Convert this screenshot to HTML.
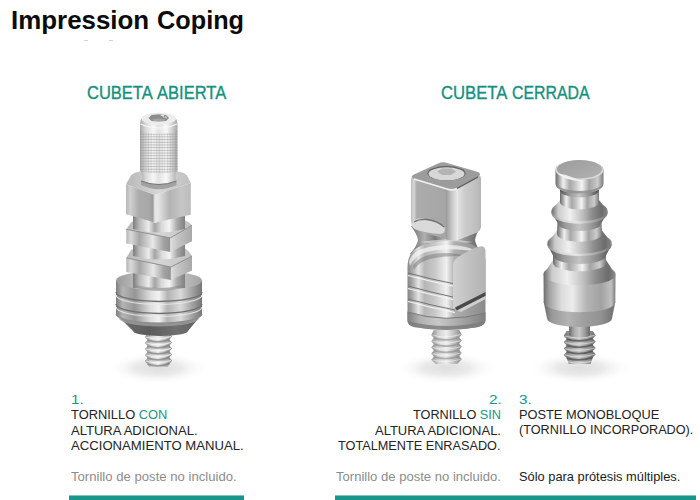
<!DOCTYPE html>
<html><head><meta charset="utf-8">
<style>
html,body{margin:0;padding:0;background:#fff;width:700px;height:500px;overflow:hidden;position:relative}
body{font-family:"Liberation Sans",sans-serif;color:#222}
.t{position:absolute;white-space:nowrap;line-height:1;transform-origin:0 0}
.title{font-size:26px;font-weight:bold;color:#0b0b0b}
.h{font-size:18.5px;color:#16907f;-webkit-text-stroke:0.35px #16907f}
.s{font-size:13.6px;color:#242424}
.g{color:#8c8c8c}
.tl{color:#19968a}
.bar{position:absolute;height:5px;top:495px;background:linear-gradient(to bottom,rgba(24,150,139,0.55) 0,rgba(24,150,139,0.55) 1px,#18968b 1px)}
svg{position:absolute;left:0;top:0}
</style></head><body>
<svg width="700" height="500" viewBox="0 0 700 500"><defs>
<linearGradient id="cyl" x1="0" x2="1">
 <stop offset="0" stop-color="#7c7c7c"/><stop offset="0.12" stop-color="#b8b8b8"/><stop offset="0.3" stop-color="#ececec"/>
 <stop offset="0.42" stop-color="#a4a4a4"/><stop offset="0.55" stop-color="#dadada"/><stop offset="0.7" stop-color="#f4f4f4"/>
 <stop offset="0.85" stop-color="#a8a8a8"/><stop offset="1" stop-color="#808080"/>
</linearGradient>
<linearGradient id="cylL" x1="0" x2="1">
 <stop offset="0" stop-color="#a8a8a8"/><stop offset="0.15" stop-color="#d8d8d8"/><stop offset="0.35" stop-color="#f6f6f6"/>
 <stop offset="0.5" stop-color="#e2e2e2"/><stop offset="0.7" stop-color="#f8f8f8"/><stop offset="0.88" stop-color="#cccccc"/><stop offset="1" stop-color="#a4a4a4"/>
</linearGradient>
<linearGradient id="hexL" x1="0" x2="1">
 <stop offset="0" stop-color="#b8b8b8"/><stop offset="0.15" stop-color="#d0d0d0"/><stop offset="0.45" stop-color="#acacac"/><stop offset="0.8" stop-color="#a8a8a8"/><stop offset="0.94" stop-color="#9a9a9a"/><stop offset="1" stop-color="#8a8a8a"/>
</linearGradient>
<linearGradient id="hexR" x1="0" x2="1">
 <stop offset="0" stop-color="#f0f0f0"/><stop offset="0.15" stop-color="#dcdcdc"/><stop offset="0.4" stop-color="#b4b4b4"/><stop offset="0.75" stop-color="#c6c6c6"/><stop offset="1" stop-color="#bcbcbc"/>
</linearGradient>
<linearGradient id="disc" x1="0" x2="1">
 <stop offset="0" stop-color="#7e7e7e"/><stop offset="0.08" stop-color="#b4b4b4"/><stop offset="0.22" stop-color="#969696"/><stop offset="0.4" stop-color="#dedede"/>
 <stop offset="0.5" stop-color="#f2f2f2"/><stop offset="0.6" stop-color="#b4b4b4"/><stop offset="0.75" stop-color="#dadada"/><stop offset="0.9" stop-color="#9c9c9c"/><stop offset="1" stop-color="#767676"/>
</linearGradient>
<linearGradient id="disctop" x1="0" x2="1">
 <stop offset="0" stop-color="#9a9a9a"/><stop offset="0.3" stop-color="#c4c4c4"/><stop offset="0.6" stop-color="#d2d2d2"/><stop offset="1" stop-color="#a4a4a4"/>
</linearGradient>
<linearGradient id="cone" x1="0" x2="1">
 <stop offset="0" stop-color="#6e6e6e"/><stop offset="0.4" stop-color="#5c5c5c"/><stop offset="0.7" stop-color="#707070"/><stop offset="1" stop-color="#5e5e5e"/>
</linearGradient>
<linearGradient id="thread" x1="0" x2="1">
 <stop offset="0" stop-color="#8c8c8c"/><stop offset="0.25" stop-color="#d4d4d4"/><stop offset="0.5" stop-color="#ececec"/><stop offset="0.78" stop-color="#b8b8b8"/><stop offset="1" stop-color="#848484"/>
</linearGradient>
<linearGradient id="topface" x1="0" x2="1">
 <stop offset="0" stop-color="#b8b8b8"/><stop offset="0.5" stop-color="#d6d6d6"/><stop offset="1" stop-color="#c0c0c0"/>
</linearGradient>
<pattern id="knurl" width="2.7" height="2.7" patternUnits="userSpaceOnUse" x="140" y="131">
 <rect x="0" y="0" width="2.7" height="0.8" fill="#8e8e8e" opacity="0.55"/><rect x="0" y="0" width="0.7" height="2.7" fill="#9a9a9a" opacity="0.35"/>
</pattern>
<radialGradient id="shadow" cx="0.5" cy="0.5" r="0.5">
 <stop offset="0" stop-color="#dedede"/><stop offset="0.45" stop-color="#eaeaea"/><stop offset="1" stop-color="#ffffff" stop-opacity="0"/>
</radialGradient>
</defs>
<defs>
<linearGradient id="hexL2" x1="0" x2="1">
 <stop offset="0" stop-color="#b4b4b4"/><stop offset="0.1" stop-color="#dadada"/><stop offset="0.3" stop-color="#a6a6a6"/><stop offset="0.6" stop-color="#e8e8e8"/><stop offset="0.85" stop-color="#a2a2a2"/><stop offset="1" stop-color="#929292"/>
</linearGradient>
<linearGradient id="hexR2" x1="0" x2="1">
 <stop offset="0" stop-color="#dedede"/><stop offset="0.35" stop-color="#c4c4c4"/><stop offset="1" stop-color="#a8a8a8"/>
</linearGradient>
</defs>
<defs>
<linearGradient id="body2" x1="0" x2="1">
 <stop offset="0" stop-color="#858585"/><stop offset="0.06" stop-color="#a8a8a8"/><stop offset="0.14" stop-color="#e4e4e4"/><stop offset="0.22" stop-color="#b6b6b6"/>
 <stop offset="0.35" stop-color="#c8c8c8"/><stop offset="0.5" stop-color="#f0f0f0"/><stop offset="0.6" stop-color="#b0b0b0"/><stop offset="0.8" stop-color="#9c9c9c"/><stop offset="1" stop-color="#8a8a8a"/>
</linearGradient>
<linearGradient id="flat2" x1="0" x2="1">
 <stop offset="0" stop-color="#d2d2d2"/><stop offset="0.5" stop-color="#c0c0c0"/><stop offset="1" stop-color="#b4b4b4"/>
</linearGradient>
<linearGradient id="sqL" x1="0" x2="1">
 <stop offset="0" stop-color="#bcbcbc"/><stop offset="0.07" stop-color="#d8d8d8"/><stop offset="0.14" stop-color="#acacac"/><stop offset="0.8" stop-color="#a6a6a6"/><stop offset="1" stop-color="#989898"/>
</linearGradient>
<linearGradient id="sqR" x1="0" x2="1">
 <stop offset="0" stop-color="#909090"/><stop offset="0.2" stop-color="#e2e2e2"/><stop offset="0.45" stop-color="#cccccc"/><stop offset="0.8" stop-color="#c0c0c0"/><stop offset="1" stop-color="#b4b4b4"/>
</linearGradient>
<linearGradient id="cap3" x1="0" x2="1">
 <stop offset="0" stop-color="#6a6a6a"/><stop offset="0.06" stop-color="#9a9a9a"/><stop offset="0.16" stop-color="#f0f0f0"/><stop offset="0.3" stop-color="#a8a8a8"/>
 <stop offset="0.42" stop-color="#c8c8c8"/><stop offset="0.55" stop-color="#f4f4f4"/><stop offset="0.7" stop-color="#a4a4a4"/><stop offset="0.88" stop-color="#cccccc"/><stop offset="1" stop-color="#7a7a7a"/>
</linearGradient>
<linearGradient id="cone3" x1="0" x2="1">
 <stop offset="0" stop-color="#6a6a6a"/><stop offset="0.12" stop-color="#cccccc"/><stop offset="0.33" stop-color="#f0f0f0"/><stop offset="0.55" stop-color="#c0c0c0"/>
 <stop offset="0.72" stop-color="#8e8e8e"/><stop offset="0.9" stop-color="#6c6c6c"/><stop offset="1" stop-color="#888888"/>
</linearGradient>
<linearGradient id="top3" x1="0" x2="1" y1="0" y2="1">
 <stop offset="0" stop-color="#9c9c9c"/><stop offset="0.6" stop-color="#a8a8a8"/><stop offset="1" stop-color="#b4b4b4"/>
</linearGradient>
<linearGradient id="dark3" x1="0" x2="1">
 <stop offset="0" stop-color="#6c6c6c"/><stop offset="0.12" stop-color="#9a9a9a"/><stop offset="0.35" stop-color="#b4b4b4"/><stop offset="0.55" stop-color="#a0a0a0"/><stop offset="0.8" stop-color="#929292"/><stop offset="1" stop-color="#6e6e6e"/>
</linearGradient>
</defs>
<defs>
<linearGradient id="body3" x1="0" x2="1">
 <stop offset="0" stop-color="#6e6e6e"/><stop offset="0.08" stop-color="#a2a2a2"/><stop offset="0.25" stop-color="#dcdcdc"/><stop offset="0.4" stop-color="#ececec"/>
 <stop offset="0.6" stop-color="#b4b4b4"/><stop offset="0.8" stop-color="#a2a2a2"/><stop offset="0.94" stop-color="#c0c0c0"/><stop offset="1" stop-color="#7c7c7c"/>
</linearGradient>
<linearGradient id="under3" x1="0" x2="1">
 <stop offset="0" stop-color="#505050"/><stop offset="0.25" stop-color="#9a9a9a"/><stop offset="0.5" stop-color="#c4c4c4"/><stop offset="0.78" stop-color="#8a8a8a"/><stop offset="1" stop-color="#505050"/>
</linearGradient>
<linearGradient id="rim3" x1="0" x2="1">
 <stop offset="0" stop-color="#8a8a8a"/><stop offset="0.2" stop-color="#d8d8d8"/><stop offset="0.45" stop-color="#e8e8e8"/><stop offset="0.75" stop-color="#a8a8a8"/><stop offset="1" stop-color="#7a7a7a"/>
</linearGradient>
</defs>
<defs>
<linearGradient id="band2" x1="0" x2="1">
 <stop offset="0" stop-color="#7e7e7e"/><stop offset="0.15" stop-color="#b0b0b0"/><stop offset="0.4" stop-color="#c8c8c8"/><stop offset="0.7" stop-color="#a4a4a4"/><stop offset="1" stop-color="#808080"/>
</linearGradient>
<linearGradient id="neck2" x1="0" x2="1">
 <stop offset="0" stop-color="#6a6a6a"/><stop offset="0.2" stop-color="#b0b0b0"/><stop offset="0.35" stop-color="#7a7a7a"/><stop offset="0.55" stop-color="#d0d0d0"/><stop offset="0.8" stop-color="#8a8a8a"/><stop offset="1" stop-color="#5e5e5e"/>
</linearGradient>
<linearGradient id="edge2" x1="0" x2="1">
 <stop offset="0" stop-color="#9a9a9a"/><stop offset="0.5" stop-color="#c8c8c8"/><stop offset="1" stop-color="#ececec"/>
</linearGradient>
</defs>
<defs>
<linearGradient id="thread3" x1="0" x2="1">
 <stop offset="0" stop-color="#6a6a6a"/><stop offset="0.25" stop-color="#aaaaaa"/><stop offset="0.5" stop-color="#c6c6c6"/><stop offset="0.78" stop-color="#969696"/><stop offset="1" stop-color="#666666"/>
</linearGradient>
</defs>
<g id="o1">
 <ellipse cx="158" cy="368" rx="52" ry="16" fill="url(#shadow)"/>
 <!-- screw thread -->
<path d="M169.5,333.0 L172.0,336.4 L169.5,339.4 L172.0,342.4 L169.5,345.4 L172.0,348.4 L169.5,351.4 L172.0,354.4 L169.5,357.4 L172.0,360.4 L167.5,367.0 L149.5,367.0 L145.0,361.0 L147.5,358.0 L145.0,355.0 L147.5,352.0 L145.0,349.0 L147.5,346.0 L145.0,343.0 L147.5,340.0 L145.0,337.0 L147.5,333.0 Z" fill="url(#thread)"/>
<g fill="none" stroke="#808080" stroke-width="1.7" opacity="0.75"><path d="M147.5,340.0 Q158.5,344.0 169.5,339.4"/><path d="M147.5,346.0 Q158.5,350.0 169.5,345.4"/><path d="M147.5,352.0 Q158.5,356.0 169.5,351.4"/><path d="M147.5,358.0 Q158.5,362.0 169.5,357.4"/><path d="M147.5,364.0 Q158.5,368.0 169.5,363.4"/></g>
<g fill="none" stroke="#fafafa" stroke-width="1.2" opacity="0.7"><path d="M146.0,337.0 Q158.5,341.0 171.0,336.4"/><path d="M146.0,343.0 Q158.5,347.0 171.0,342.4"/><path d="M146.0,349.0 Q158.5,353.0 171.0,348.4"/><path d="M146.0,355.0 Q158.5,359.0 171.0,354.4"/><path d="M146.0,361.0 Q158.5,365.0 171.0,360.4"/></g>
 <!-- cone -->
 <path d="M116,314 A43,9 0 0 0 202,314 L188,331 A27.5,5 0 0 1 133,331 Z" fill="url(#cone)"/>
 <path d="M116,314 A43,9 0 0 0 202,314 L199,318 A40,8.5 0 0 1 119,318 Z" fill="#9e9e9e" opacity="0.8"/>
 <!-- disc side -->
 <path d="M116,281 L202,281 L202,314 A43,9 0 0 1 116,314 Z" fill="url(#disc)"/>
 <g fill="none" stroke="#6e6e6e" stroke-width="1.3">
  <path d="M116,292 A43,9.5 0 0 0 202,292"/><path d="M116,304 A43,9.5 0 0 0 202,304"/>
 </g>
 <g fill="none" stroke="#ececec" stroke-width="1.2" opacity="0.85">
  <path d="M116,295 A43,9.5 0 0 0 202,295"/><path d="M116,307 A43,9.5 0 0 0 202,307"/>
 </g>
 <path d="M116,314 A43,9 0 0 0 202,314" fill="none" stroke="#8a8a8a" stroke-width="1"/>
 <ellipse cx="159" cy="280.5" rx="43" ry="9.5" fill="url(#disctop)"/>
 <!-- shaft full -->
 <rect x="133" y="212" width="52" height="76" fill="url(#cyl)"/>
 <path d="M133,284 Q159,292 185,284 L185,287 Q159,295 133,287Z" fill="#888888" opacity="0.5"/>
 <!-- thin hex 2 -->
 <path d="M126.3,257.9 L131,250 Q134,248 141,248 L182,247.5 Q187,247.5 192,256.1 L170.9,267 Z" fill="url(#topface)"/>
 <path d="M133,240 L185,240 L185,256 Q159,263 133,256 Z" fill="url(#cyl)"/>
 <path d="M126.3,257.9 L170.9,267 L170.9,280.1 L126.3,272.1 Z" fill="url(#hexL2)"/>
 <path d="M170.9,267 L192,256.1 L192,270.4 L170.9,280.1 Z" fill="url(#hexR2)"/>
 <path d="M126.3,257.9 L170.9,267 L192,256.1" fill="none" stroke="#8a8a8a" stroke-width="0.9"/>
 <!-- thin hex 1 -->
 <path d="M126.3,229.3 L131,222.4 Q134,220.5 141,220.5 L182,220 Q187,220 192,225.3 L170.3,237.9 Z" fill="url(#topface)"/>
 <path d="M133,212 L185,212 L185,229 Q159,236 133,229 Z" fill="url(#cyl)"/>
 <path d="M126.3,229.3 L170.3,237.9 L170.3,252.1 L126.3,243.6 Z" fill="url(#hexL2)"/>
 <path d="M170.3,237.9 L192,225.3 L192,241.3 L170.3,252.1 Z" fill="url(#hexR2)"/>
 <path d="M126.3,229.3 L170.3,237.9 L192,225.3" fill="none" stroke="#8a8a8a" stroke-width="0.9"/>
 <!-- hex nut -->
 <path d="M126,184.2 L131,175.5 Q134,172 141,171.5 L177,171.5 Q184,172 187,175.5 L190.8,183 L154.8,195 Z" fill="url(#topface)"/>
 <path d="M126,184.2 L154.8,195 L154.8,222.6 L126,214.2 Z" fill="url(#hexL)"/>
 <path d="M154.8,195 L190.8,183 L190.8,214.8 L154.8,222.6 Z" fill="url(#hexR)"/>
 <path d="M153.5,195 L157,194 L157,223 L153.5,223 Z" fill="#e4e4e4" opacity="0.8"/>
 <!-- screw head -->
 <path d="M140,124 Q140,113 158.8,112.7 Q177.5,113 177.5,124 L177.5,171 L175.5,173 L175.5,186 Q158.8,192 142,186 L142,173 L140,171 Z" fill="url(#cylL)"/>
 <path d="M140,131 Q158.8,137 177.5,131 L177.5,171 Q158.8,176 140,171 Z" fill="url(#knurl)"/>
 <path d="M141,181 Q158.8,188 176.5,181 L176.5,185 Q158.8,193.5 141,185 Z" fill="#a2a2a2"/>
 <path d="M141,181 Q158.8,188 176.5,181" fill="none" stroke="#707070" stroke-width="1"/>
 <ellipse cx="158.8" cy="118.8" rx="17.2" ry="6" fill="#ececec"/>
 <path d="M148.5,118 L151.5,115 L158.8,114.3 L166,115 L169,118 L166,121 L158.8,121.6 L151.5,121 Z" fill="#8c8c8c"/>
 <path d="M152,119.5 L158.8,118.2 L166,119.5 L164,121 L153.5,121 Z" fill="#a4a4a4"/>
 <path d="M160,115 L164.5,114.8 L163,117.2 L166,116.5 L167,118.4 Z" fill="#f4f4f4"/>
 <path d="M140.5,124 Q158.8,132 177,124" fill="none" stroke="#f8f8f8" stroke-width="1.2"/>
</g>
<g id="o2">
 <ellipse cx="446" cy="368" rx="52" ry="16" fill="url(#shadow)"/>
 <!-- screw -->
<path d="M459.2,330.0 L461.7,334.4 L459.2,337.5 L461.7,340.6 L459.2,343.7 L461.7,346.8 L459.2,349.9 L461.7,353.0 L459.2,356.1 L461.7,359.2 L457.2,364.0 L435.8,364.0 L431.3,359.8 L433.8,356.7 L431.3,353.6 L433.8,350.5 L431.3,347.4 L433.8,344.3 L431.3,341.2 L433.8,338.1 L431.3,335.0 L433.8,330.0 Z" fill="url(#thread)"/>
<g fill="none" stroke="#8a8a8a" stroke-width="1.7" opacity="0.6"><path d="M433.8,338.1 Q446.5,342.1 459.2,337.5"/><path d="M433.8,344.3 Q446.5,348.3 459.2,343.7"/><path d="M433.8,350.5 Q446.5,354.5 459.2,349.9"/><path d="M433.8,356.7 Q446.5,360.7 459.2,356.1"/></g>
<g fill="none" stroke="#fafafa" stroke-width="1.2" opacity="0.5"><path d="M432.3,335.0 Q446.5,339.0 460.7,334.4"/><path d="M432.3,341.2 Q446.5,345.2 460.7,340.6"/><path d="M432.3,347.4 Q446.5,351.4 460.7,346.8"/><path d="M432.3,353.6 Q446.5,357.6 460.7,353.0"/><path d="M432.3,359.8 Q446.5,363.8 460.7,359.2"/></g>
 <!-- neck -->
 <path d="M411,226 L481,226 Q476,234 475,240 Q476,246 482,254 L410,254 Q417,246 418,240 Q417,234 411,226 Z" fill="url(#neck2)"/>
 <path d="M420,242 Q446,237 473,242 Q446,246 420,242Z" fill="#e8e8e8" opacity="0.6"/>
 <!-- body -->
 <path d="M407.5,268 C407.5,251 416,243 446,241 C474,241 485.5,249 485.5,262 L485.5,320 Q485,325 478,327 Q446,333 414,327 Q407.5,325 407.5,320 Z" fill="url(#body2)"/>
 <path d="M407.5,312 Q446,324 485.5,313 L485.5,320 Q485,325 478,327 Q446,333 414,327 Q407.5,325 407.5,320 Z" fill="url(#band2)"/>
 <path d="M407.5,312 Q446,324 485.5,313" fill="none" stroke="#7a7a7a" stroke-width="1"/>
 <path d="M407.5,321 Q446,331 485.5,321 Q485,325 478,327 Q446,333 414,327 Q407.5,325 407.5,321 Z" fill="#7c7c7c" opacity="0.8"/>
 <!-- shoulder reflections -->
 <path d="M409,262 C411,252 422,246 446,245 C462,245 472,248 478,252 C466,250 456,249 446,249.5 C424,250 414,256 410,266 Z" fill="#f6f6f6" opacity="0.7"/>
 <path d="M413,266 C418,257 430,253 446,253 C454,253 460,254 464,256 C452,256 444,256.5 438,257.5 C426,259 418,263 414,270 Z" fill="#6e6e6e" opacity="0.45"/>
 <g fill="none" stroke="#747474" stroke-width="1">
  <path d="M408,273 Q430,279 455,284"/><path d="M408,286 Q430,292 455,297.5"/><path d="M408,299 Q430,305 455,310"/>
 </g>
 <g fill="none" stroke="#f4f4f4" stroke-width="1.2">
  <path d="M408,275.5 Q430,281.5 455,286.5"/><path d="M408,288.5 Q430,294.5 455,300"/><path d="M408,301.5 Q430,307.5 455,312.5"/>
 </g>
 <!-- flat face -->
 <path d="M453,266 Q453,259 460,256 Q470,249 480,246.5 Q485.5,245.5 485.5,252 L485.5,293 L453,309 Z" fill="url(#flat2)"/>
 <path d="M455,307.5 L485.5,292 L485.5,296 L457,310.5 Z" fill="#4a4a4a"/>
 <path d="M457,310.5 L485.5,296 L485.5,299 L461,312 Z" fill="#d0d0d0"/>
 <!-- square head: left face -->
 <path d="M411,180 Q411,176 415,177 L449,188 Q452,189 452,193 L452,236 Q452,240 446,239 L418,231 Q411,228 411,220 Z" fill="url(#sqL)"/>
 <!-- right face -->
 <path d="M452,193 Q452,189 456,188 L477,176 Q481,174 481,179 L481,226 Q481,231 476,233 L458,240 Q452,242 452,237 Z" fill="url(#sqR)"/>
 <!-- front edge highlight -->
 <path d="M446,188 Q452,191 458,188 L458,240 Q452,242 446,239 Z" fill="url(#edge2)"/>
 <!-- top face -->
 <path d="M413,175 L438,163.5 Q443,161.5 447,163 L478,172 Q482,174 478,177 L457,188.5 Q452,191 447,189 L414,179 Q410,177 413,175 Z" fill="#9c9c9c"/>
 <path d="M414,179 L447,189 Q452,191 457,188.5" fill="none" stroke="#f2f2f2" stroke-width="1.6"/>
 <path d="M457,188.5 L478,177" fill="none" stroke="#5a5a5a" stroke-width="1.4"/>
 <ellipse cx="446.5" cy="173.3" rx="19" ry="7.2" fill="#5e5e5e"/>
 <ellipse cx="446.5" cy="173.8" rx="18" ry="6.5" fill="#d8d8d8"/>
 <path d="M437,171.5 L442,168.5 L451,168.5 L456,171.5 L451,175 L442,175 Z" fill="#b4b4b4"/>
 <!-- notch on left face -->
 <path d="M412,224 Q413,218 422,218.5 Q436,220 444,226 Q447,233 440,234 Q424,233 415,229 Q411,227 412,224 Z" fill="#dadada"/>
 <path d="M414,222 Q419,219 427,219.5 Q438,221 444,227" fill="none" stroke="#707070" stroke-width="1.3"/>
</g>
<g id="o3">
<ellipse cx="580" cy="368" rx="52" ry="16" fill="url(#shadow)"/>
<path d="M592.7,331.0 L595.7,335.4 L592.7,338.5 L595.7,341.7 L592.7,344.8 L595.7,348.0 L592.7,351.1 L595.7,354.3 L592.7,357.4 L590.7,364.0 L568.7,364.0 L566.7,358.1 L563.7,354.9 L566.7,351.8 L563.7,348.6 L566.7,345.4 L563.7,342.3 L566.7,339.1 L563.7,336.0 L566.7,331.0 Z" fill="url(#thread3)"/>
<g fill="none" stroke="#505050" stroke-width="1.7" opacity="0.8"><path d="M566.7,339.1 Q579.7,343.1 592.7,338.5"/><path d="M566.7,345.4 Q579.7,349.4 592.7,344.8"/><path d="M566.7,351.8 Q579.7,355.8 592.7,351.1"/><path d="M566.7,358.1 Q579.7,362.1 592.7,357.4"/></g>
<g fill="none" stroke="#fafafa" stroke-width="1.2" opacity="0.5"><path d="M564.7,336.0 Q579.7,340.0 594.7,335.4"/><path d="M564.7,342.3 Q579.7,346.3 594.7,341.7"/><path d="M564.7,348.6 Q579.7,352.6 594.7,348.0"/><path d="M564.7,354.9 Q579.7,358.9 594.7,354.3"/><path d="M564.7,361.2 Q579.7,365.2 594.7,360.6"/></g>
<path d="M569.0,322.0 A10.5,2.7 0 0 1 590.0,322.0 L590.0,335.0 A10.5,2.5 0 0 1 569.0,335.0 Z" fill="url(#thread3)"/>
<path d="M543.7,302.0 A35.8,9.8 0 0 1 615.3,302.0 L612.0,318.5 A32.5,8.4 0 0 1 547.0,318.5 Z" fill="url(#dark3)"/>
<path d="M543.5,274.0 A36.0,10.9 0 0 1 615.5,274.0 L615.3,302.5 A35.8,9.8 0 0 1 543.7,302.5 Z" fill="url(#body3)"/>
<path d="M553.0,260.0 A26.5,8.4 0 0 1 606.0,260.0 L615.5,274.5 A36.0,10.9 0 0 1 543.5,274.5 Z" fill="url(#cone3)"/>
<path d="M553.0,250.0 A26.5,8.7 0 0 1 606.0,250.0 L606.0,263.0 A26.5,8.3 0 0 1 553.0,263.0 Z" fill="url(#cap3)"/>
<path d="M547.5,245.0 A32.0,10.7 0 0 1 611.5,245.0 L606.0,255.5 A26.5,8.5 0 0 1 553.0,255.5 Z" fill="url(#under3)"/>
<path d="M547.5,242.5 A32.0,10.7 0 0 1 611.5,242.5 L611.5,245.5 A32.0,10.6 0 0 1 547.5,245.5 Z" fill="url(#rim3)"/>
<path d="M557.0,230.5 A22.5,7.8 0 0 1 602.0,230.5 L611.5,243.0 A32.0,10.7 0 0 1 547.5,243.0 Z" fill="url(#cone3)"/>
<path d="M557.5,220.0 A22.0,7.9 0 0 1 601.5,220.0 L602.0,234.0 A22.5,7.7 0 0 1 557.0,234.0 Z" fill="url(#cap3)"/>
<path d="M551.5,213.0 A28.0,10.2 0 0 1 607.5,213.0 L601.0,223.5 A21.5,7.6 0 0 1 558.0,223.5 Z" fill="url(#under3)"/>
<path d="M551.5,210.5 A28.0,10.3 0 0 1 607.5,210.5 L607.5,213.5 A28.0,10.2 0 0 1 551.5,213.5 Z" fill="url(#rim3)"/>
<path d="M560.0,200.0 A19.5,7.4 0 0 1 599.0,200.0 L607.5,211.0 A28.0,10.3 0 0 1 551.5,211.0 Z" fill="url(#cone3)"/>
<path d="M560.0,182.0 A19.5,7.8 0 0 1 599.0,182.0 L599.0,202.0 A19.5,7.4 0 0 1 560.0,202.0 Z" fill="url(#cap3)"/>
<path d="M560.0,182.0 A19.5,7.8 0 0 1 599.0,182.0 L599.0,190.0 A19.5,7.6 0 0 1 560.0,190.0 Z" fill="url(#under3)"/>
<path d="M555.5,170.0 A24.0,9.8 0 0 1 603.5,170.0 L603.5,184.0 A24.0,9.5 0 0 1 555.5,184.0 Z" fill="url(#cap3)"/>
<path d="M555.5,181.5 A24.0,9.6 0 0 0 603.5,181.5 L602.5,184.5 A23.0,9.1 0 0 1 556.5,184.5 Z" fill="#8a8a8a" opacity="0.8"/>
<ellipse cx="579.5" cy="170" rx="24" ry="9.8" fill="#d8d8d8"/>
<ellipse cx="579.5" cy="169.2" rx="22.5" ry="9.2" fill="url(#top3)"/>
<path d="M557,173 Q566,181 582,181 Q572,177 566,175 Q561,174 557,173Z" fill="#f4f4f4" opacity="0.9"/>
</g></svg>
<div style="position:absolute;left:84px;top:40px;width:4px;height:1px;background:#d4d4d4"></div><div style="position:absolute;left:109px;top:40px;width:4px;height:1px;background:#d4d4d4"></div>
<div class="t title" style="left:11.00px;top:7.00px;transform:scaleX(0.9963)">Impression</div>
<div class="t title" style="left:157.43px;top:7.00px;transform:scaleX(0.9721)">Coping</div>
<div class="t h" style="left:86.71px;top:84.10px;transform:scaleX(0.8917)">CUBETA</div>
<div class="t h" style="left:157.20px;top:84.10px;transform:scaleX(0.8935)">ABIERTA</div>
<div class="t h" style="left:441.10px;top:84.10px;transform:scaleX(0.9000)">CUBETA</div>
<div class="t h" style="left:511.74px;top:84.10px;transform:scaleX(0.8584)">CERRADA</div>
<div class="t s tl" style="left:70.58px;top:392.50px;transform:scaleX(1.1250)">1.</div>
<div class="t s" style="left:71.00px;top:408.00px;transform:scaleX(0.9470)">TORNILLO <span class="tl">CON</span></div>
<div class="t s" style="left:71.00px;top:423.50px;transform:scaleX(0.9592)">ALTURA ADICIONAL.</div>
<div class="t s" style="left:71.00px;top:439.00px;transform:scaleX(0.9661)">ACCIONAMIENTO MANUAL.</div>
<div class="t s g" style="left:70.80px;top:470.00px;transform:scaleX(0.9657)">Tornillo de poste no incluido.</div>
<div class="t s tl" style="left:488.57px;top:392.50px;transform:scaleX(1.1250)">2.</div>
<div class="t s" style="left:412.70px;top:408.00px;transform:scaleX(0.9348)">TORNILLO <span class="tl">SIN</span></div>
<div class="t s" style="left:374.60px;top:423.50px;transform:scaleX(0.9546)">ALTURA ADICIONAL.</div>
<div class="t s" style="left:338.10px;top:439.00px;transform:scaleX(0.9337)">TOTALMENTE ENRASADO.</div>
<div class="t s g" style="left:336.30px;top:470.00px;transform:scaleX(0.9609)">Tornillo de poste no incluido.</div>
<div class="t s tl" style="left:518.58px;top:392.50px;transform:scaleX(1.1250)">3.</div>
<div class="t s" style="left:518.56px;top:408.00px;transform:scaleX(0.9422)">POSTE MONOBLOQUE</div>
<div class="t s" style="left:518.57px;top:422.80px;transform:scaleX(0.9321)">(TORNILLO INCORPORADO).</div>
<div class="t s" style="color:#1c1c1c;left:518.76px;top:470.00px;transform:scaleX(0.9446)">Sólo para prótesis múltiples.</div>
<div class="bar" style="left:69px;width:175px"></div>
<div class="bar" style="left:335px;width:361px"></div>
</body></html>
